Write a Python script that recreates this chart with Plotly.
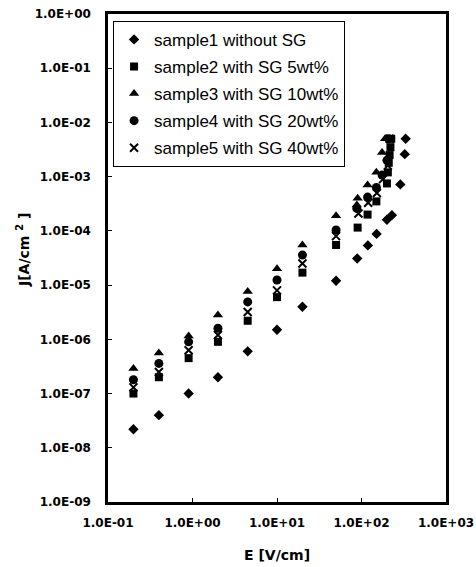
import plotly.graph_objects as go

# ---- data ----
names = ["sample1 without SG", "sample2 with SG 5wt%", "sample3 with SG 10wt%",
         "sample4 with SG 20wt%", "sample5 with SG 40wt%"]

x1 = [0.2, 0.4, 0.9, 2, 4.5, 10, 20, 50, 89, 119, 151, 200, 229, 288, 325, 333]
y1 = [2.2e-8, 4e-8, 1e-7, 2e-7, 6e-7, 1.5e-6, 4e-6, 1.2e-5, 3.1e-5, 5.4e-5, 8.8e-5,
      1.6e-4, 1.95e-4, 7.2e-4, 2.6e-3, 5e-3]

x2 = [0.2, 0.4, 0.9, 2, 4.5, 10, 20, 50, 90, 118, 150, 200, 205, 210, 215, 220, 225]
y2 = [1e-7, 2e-7, 4.5e-7, 9e-7, 2.2e-6, 6e-6, 1.7e-5, 5.5e-5, 1.15e-4, 2e-4, 3.5e-4,
      7.5e-4, 1.2e-3, 1.8e-3, 2.5e-3, 3.5e-3, 5e-3]

x3 = [0.2, 0.4, 0.9, 2, 4.5, 10, 20, 50, 88, 90, 118, 150, 175, 190]
y3 = [2.9e-7, 5.6e-7, 1.15e-6, 2.8e-6, 7.6e-6, 2e-5, 5.5e-5, 1.9e-4, 3e-4, 4e-4,
      7e-4, 1.2e-3, 2.8e-3, 5e-3]

x4 = [0.2, 0.4, 0.9, 2, 4.5, 10, 20, 50, 88, 118, 150, 175, 200, 210]
y4 = [1.8e-7, 3.6e-7, 9e-7, 1.6e-6, 4.9e-6, 1.24e-5, 3.6e-5, 1.04e-4, 2.6e-4, 4.2e-4,
      6.3e-4, 1.07e-3, 2e-3, 5e-3]

x5 = [0.2, 0.4, 0.9, 2, 4.5, 10, 20, 50, 92, 120, 152, 180, 205, 215]
y5 = [1.3e-7, 2.5e-7, 6.3e-7, 1.2e-6, 3.2e-6, 8e-6, 2.5e-5, 8e-5, 2.1e-4, 3.3e-4,
      5e-4, 9e-4, 1.6e-3, 5e-3]

xtick_vals = [1e-1, 1e0, 1e1, 1e2, 1e3]
xtick_text = ["1.0E-01", "1.0E+00", "1.0E+01", "1.0E+02", "1.0E+03"]
ytick_vals = [1e0, 1e-1, 1e-2, 1e-3, 1e-4, 1e-5, 1e-6, 1e-7, 1e-8, 1e-9]
ytick_text = ["1.0E+00", "1.0E-01", "1.0E-02", "1.0E-03", "1.0E-04",
              "1.0E-05", "1.0E-06", "1.0E-07", "1.0E-08", "1.0E-09"]
x_title = "E [V/cm]"
y_title = "J[A/cm <sup>2</sup> ]"

series = [(x1, y1, "diamond", 8), (x2, y2, "square", 8), (x3, y3, "triangle-up", 9),
          (x4, y4, "circle", 9), (x5, y5, "x-thin", 8)]

fig = go.Figure()
for i, ((xs, ys, sym, sz), nm) in enumerate(zip(series, names)):
    marker = dict(symbol=sym, size=sz, color="black")
    if sym == "x-thin":
        marker["line"] = dict(color="black", width=2)
    fig.add_trace(go.Scatter(x=xs, y=ys, mode="markers", name=nm, marker=marker,
                             legendgroup=f"g{i}"))

tickfont = dict(family="DejaVu Sans", size=12, color="black", weight="bold")
titlefont = dict(family="DejaVu Sans", size=14, color="black", weight="bold")
axis_common = dict(type="log", showline=True, mirror=True, linecolor="black", linewidth=2.5,
                   ticks="inside", ticklen=4, tickwidth=1, tickcolor="black",
                   showgrid=False, zeroline=False, tickfont=tickfont, automargin=False)

fig.update_layout(
    width=476, height=567,
    margin=dict(l=108, r=30, t=14, b=65),
    paper_bgcolor="white", plot_bgcolor="white",
    xaxis=dict(range=[-1, 3], tickvals=xtick_vals, ticktext=xtick_text,
               ticklabelstandoff=8, **axis_common),
    yaxis=dict(range=[-9, 0], tickvals=ytick_vals, ticktext=ytick_text,
               ticklabelstandoff=12, **axis_common),
    legend=dict(x=0.015, y=0.986, xanchor="left", yanchor="top",
                bordercolor="black", borderwidth=1, bgcolor="white",
                traceorder="grouped", tracegroupgap=2,
                font=dict(family="Liberation Sans, Arial", size=17, color="black"),
                itemwidth=30),
    showlegend=True,
    annotations=[
        dict(text=x_title, xref="paper", yref="paper", x=0.5, y=-0.108,
             xanchor="center", yanchor="middle", showarrow=False, font=titlefont),
        dict(text=y_title, xref="paper", yref="paper", x=-0.252, y=0.516,
             xanchor="center", yanchor="middle", textangle=-90, showarrow=False,
             font=titlefont),
    ],
)

fig.write_html("out.html")
